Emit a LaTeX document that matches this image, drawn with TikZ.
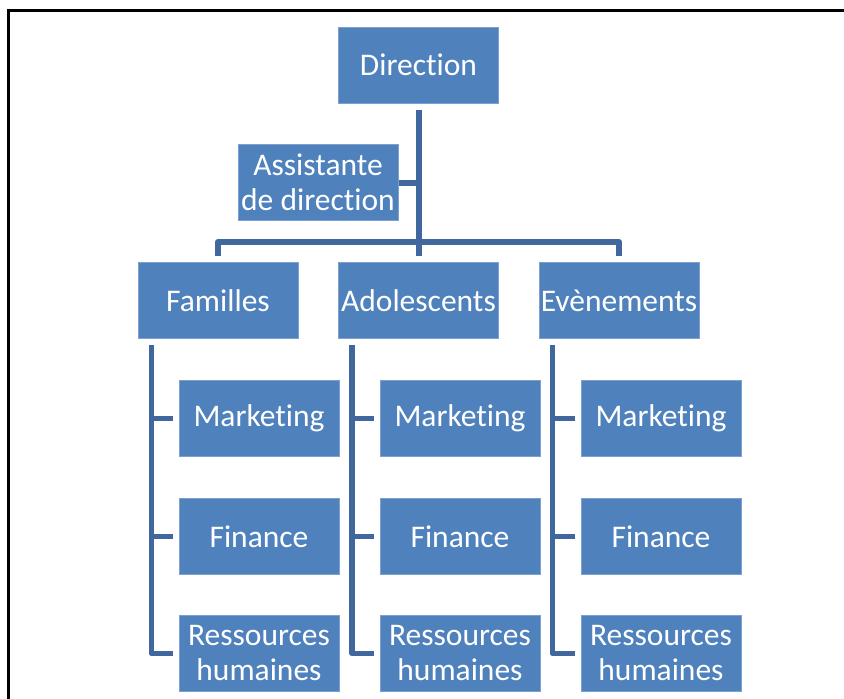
\documentclass[tikz,border=0pt]{standalone}
\usepackage{fontspec}
\setmainfont{Carlito}[RawFeature={-liga;-clig}]
\definecolor{boxblue}{RGB}{79,129,189}
\definecolor{boxedge}{RGB}{125,160,208}
\definecolor{linkblue}{RGB}{64,104,158}
\begin{document}
\begin{tikzpicture}[x=1pt,y=-1pt,
  orgbox/.style={fill=boxblue,draw=boxedge,line width=1pt,minimum width=160pt,minimum height=76pt,
    inner sep=0pt,text=white,align=center,font=\fontsize{31.5}{35}\selectfont},
  conn/.style={draw=linkblue,line width=6pt,line join=round},
  lconn/.style={draw=linkblue,line width=5.5pt,line join=round}]
\useasboundingbox (0,0) rectangle (844,699);
\fill[white] (0,0) rectangle (844,699);
% frame
\draw[line width=3pt] (8.5,699) -- (8.5,10.5) -- (844,10.5);
% nodes
\node[orgbox] (dir) at (418.5,65) {Direction};
\node[orgbox] (asst) at (318,182.5) {Assistante\\de direction};
\node[orgbox] (fam) at (218,300.5) {Familles};
\node[orgbox] (ado) at (418.5,300.5) {Adolescents};
\node[orgbox] (eve) at (619,300.5) {Evènements};
\node[orgbox] (famm) at (259,418.5) {Marketing};
\node[orgbox] (famf) at (259,536.5) {Finance};
\node[orgbox] (famr) at (259,653.5) {Ressources\\humaines};
\node[orgbox] (adom) at (460,418.5) {Marketing};
\node[orgbox] (adof) at (460,536.5) {Finance};
\node[orgbox] (ador) at (460,653.5) {Ressources\\humaines};
\node[orgbox] (evem) at (661,418.5) {Marketing};
\node[orgbox] (evef) at (661,536.5) {Finance};
\node[orgbox] (ever) at (661,653.5) {Ressources\\humaines};
% top connectors
\coordinate (bar) at (0,242);
\draw[conn] ([yshift=-6pt]dir.south) -- (dir.south |- bar);
\draw[conn] (asst.east) -- (asst.east -| dir.south);
\draw[conn] ([yshift=6pt]fam.north) -- (fam.north |- bar) -- (eve.north |- bar) -- ([yshift=6pt]eve.north);
\draw[conn] (ado.north |- bar) -- ([yshift=6pt]ado.north);
% column connectors
\foreach \c in {fam,ado,eve}{
  \coordinate (\c x) at ([xshift=14pt,yshift=-6pt]\c.south west);
  \draw[lconn] (\c x) -- (\c x |- \c r.west) -- ([xshift=-6pt]\c r.west);
  \draw[lconn] (\c x |- \c m.west) -- ([xshift=-6pt]\c m.west);
  \draw[lconn] (\c x |- \c f.west) -- ([xshift=-6pt]\c f.west);
}
\end{tikzpicture}
\end{document}
